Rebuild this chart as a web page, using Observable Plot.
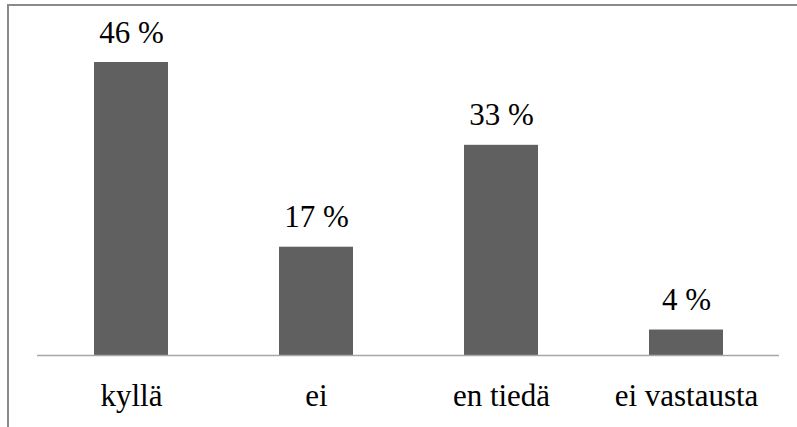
<!DOCTYPE html>
<html>
<head>
<meta charset="utf-8">
<script src="https://cdn.jsdelivr.net/npm/d3@7"></script>
<script src="https://cdn.jsdelivr.net/npm/@observablehq/plot@0.6"></script>
<style>
  html, body { margin: 0; padding: 0; background: #fff; overflow: hidden; }
  #wrap { position: relative; width: 797px; height: 427px; }
  #frame { position: absolute; left: 7px; top: 4px; width: 800px; height: 430px;
           border-left: 2px solid #8a8a8a; border-top: 2px solid #8a8a8a; pointer-events: none; }
  svg.chart-serif, svg.chart-serif text { font-family: "Liberation Serif", "Times New Roman", serif; }
</style>
</head>
<body>
<div id="wrap"><div id="frame"></div></div>
<script>
const categories = ["kyllä", "ei", "en tiedä", "ei vastausta"];
const values = [46, 17, 33, 4];
const valueLabels = ["46 %", "17 %", "33 %", "4 %"];

const data = categories.map((c, i) => ({category: c, value: values[i], label: valueLabels[i]}));
const serif = "Liberation Serif";

const chart = Plot.plot({
  width: 797,
  height: 427,
  marginLeft: 37,
  marginRight: 18,
  marginTop: 62,
  marginBottom: 72,
  style: {background: "transparent", color: "#000", fontFamily: serif},
  x: {domain: categories, paddingInner: 0.6, paddingOuter: 0.3, label: null},
  y: {domain: [0, 46], axis: null},
  marks: [
    Plot.barY(data, {x: "category", y: "value", fill: "#606060"}),
    Plot.ruleY([0], {stroke: "#a6a6a6", strokeWidth: 1.5}),
    Plot.text(data, {x: "category", y: "value", text: "label", lineAnchor: "bottom", dy: -20, fontSize: 31, fontFamily: serif, fill: "#000"}),
    Plot.axisX({tickSize: 0, tickPadding: 28, fontSize: 31, fontFamily: serif, label: null, fill: "#000"})
  ]
});
chart.setAttribute("class", "chart-serif");
chart.style.position = "absolute";
chart.style.left = "0";
chart.style.top = "0";
chart.querySelectorAll("text").forEach(el => {
  el.setAttribute("font-family", serif);
});
document.getElementById("wrap").prepend(chart);
</script>
</body>
</html>
